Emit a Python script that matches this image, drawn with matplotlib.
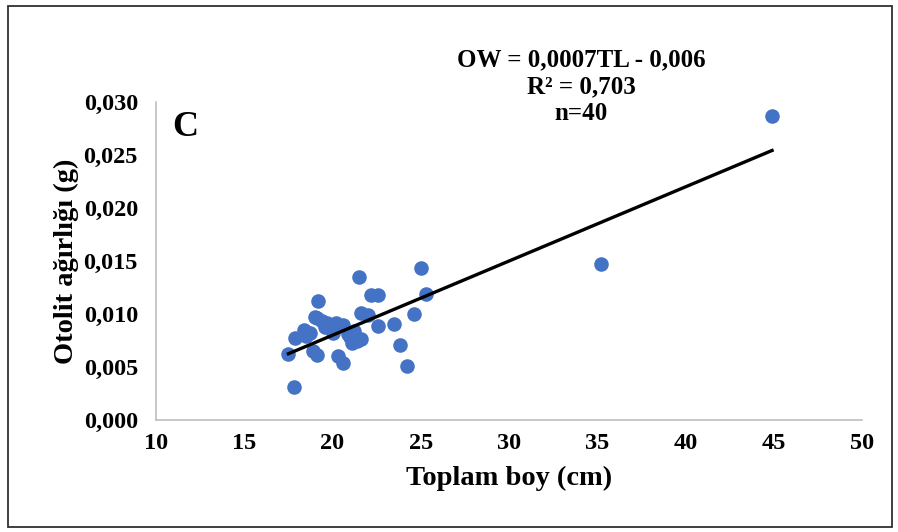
"""Otolith weight vs total length scatter with linear trend."""

import matplotlib.pyplot as plt
import numpy as np
from matplotlib.patches import Rectangle
from matplotlib.ticker import FuncFormatter

# Total length (cm) and otolith weight (g)
total_length = [
    17.5, 17.8, 17.9, 18.4, 18.7, 18.9, 19.1, 19.2, 19.1, 19.4,
    19.7, 19.9, 20.0, 20.2, 20.3, 20.6, 20.6, 21.0, 21.2, 21.4,
    21.6, 21.5, 21.6, 22.0, 22.2, 22.6, 22.6, 23.5, 23.8, 24.2,
    24.6, 25.0, 25.3, 35.2, 44.9, 19.6, 20.9, 18.5, 19.0, 21.1,
]
otolith_weight = [
    0.0062, 0.0031, 0.0077, 0.0085, 0.0082, 0.0065, 0.0061, 0.0112, 0.0096, 0.0093,
    0.0092, 0.0088, 0.0082, 0.0092, 0.0060, 0.0054, 0.0090, 0.0078, 0.0084, 0.0075,
    0.0076, 0.0135, 0.0101, 0.0099, 0.0118, 0.0118, 0.0089, 0.0091, 0.0071, 0.0051,
    0.0100, 0.0143, 0.0119, 0.0147, 0.0287, 0.0088, 0.0081, 0.0079, 0.0097, 0.0073,
]

# Trend line coefficients (from the equation shown)
slope = 0.0007
intercept = -0.006

x_ticks = [10, 15, 20, 25, 30, 35, 40, 45, 50]
y_ticks = [0.000, 0.005, 0.010, 0.015, 0.020, 0.025, 0.030]

plt.rcParams["font.family"] = ["Liberation Serif", "DejaVu Serif"]
plt.rcParams["font.weight"] = "bold"

fig = plt.figure(figsize=(8.98, 5.32), dpi=100)
ax = fig.add_axes([0.1737, 0.2105, 0.7863, 0.5977])

# Outer frame around the whole chart
fig.patches.append(Rectangle((0.009, 0.01), 0.984, 0.978, transform=fig.transFigure,
                             fill=False, edgecolor="#303030", linewidth=1.3))

ax.scatter(total_length, otolith_weight, s=110, color="#4472C4", zorder=3, linewidths=0)

xs = np.array([min(total_length), max(total_length)])
ax.plot(xs, slope * xs + intercept, color="black", linewidth=2.4, zorder=4)

ax.set_xlim(10, 50)
ax.set_ylim(0, 0.030)
ax.set_xticks(x_ticks)
ax.set_yticks(y_ticks)
ax.xaxis.set_major_formatter(FuncFormatter(lambda v, _: f"{v:.0f}"))
ax.yaxis.set_major_formatter(FuncFormatter(lambda v, _: f"{v:.3f}".replace(".", ",")))
ax.tick_params(length=0, labelsize=17.5)
ax.tick_params(axis="x", pad=9)
ax.tick_params(axis="y", pad=13)
for lab in ax.get_xticklabels() + ax.get_yticklabels():
    lab.set_fontweight("bold")

for side in ["top", "right"]:
    ax.spines[side].set_visible(False)
for side in ["left", "bottom"]:
    ax.spines[side].set_color("#bfbfbf")
    ax.spines[side].set_linewidth(1.2)

ax.set_xlabel("Toplam boy (cm)", fontsize=20.5, fontweight="bold", labelpad=9)
ax.set_ylabel("Otolit ağırlığı (g)", fontsize=20.5, fontweight="bold", labelpad=3)

ax.text(0.041, 0.921, "C", transform=ax.transAxes, fontsize=26, fontweight="bold",
        va="center", ha="center")
fig.text(0.647, 0.837, "OW = 0,0007TL - 0,006\nR² = 0,703\nn=40", ha="center", va="center",
         fontsize=18, fontweight="bold", linespacing=1.2)

fig.savefig("out.png", dpi=100)
